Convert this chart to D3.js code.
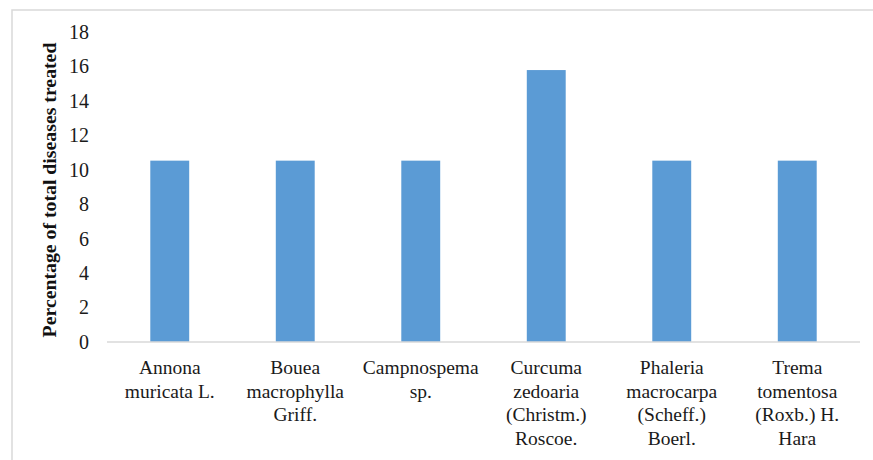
<!DOCTYPE html>
<html><head><meta charset="utf-8">
<script src="https://cdn.jsdelivr.net/npm/d3@7"></script>
<style>body{margin:0;background:#fff;} svg{display:block;} svg text{font-family:"Liberation Serif","Times New Roman",Times,"DejaVu Serif",serif;}</style>
</head><body>
<script>
const categories = [
  ["Annona", "muricata L."],
  ["Bouea", "macrophylla", "Griff."],
  ["Campnospema", "sp."],
  ["Curcuma", "zedoaria", "(Christm.)", "Roscoe."],
  ["Phaleria", "macrocarpa", "(Scheff.)", "Boerl."],
  ["Trema", "tomentosa", "(Roxb.) H.", "Hara"]
];
const values = [10.53, 10.53, 10.53, 15.79, 10.53, 10.53];
const yTicks = [0, 2, 4, 6, 8, 10, 12, 14, 16, 18];
const yTitle = "Percentage of total diseases treated";

(function () {
const W = 873, H = 460;
const svg = d3.select("body").append("svg").attr("width", W).attr("height", H);
svg.append("rect").attr("x", 12).attr("y", 10).attr("width", 900).attr("height", 500)
  .attr("fill", "#fff").attr("stroke", "#d9d9d9").attr("stroke-width", 1.5);

const pL = 107, pR = 860, pT = 32, pB = 342;
const x = d3.scaleBand().domain(d3.range(categories.length)).range([pL, pR]).padding(0);
const y = d3.scaleLinear().domain([0, 18]).range([pB, pT]);
const barW = x.bandwidth() * 0.31;

svg.append("g").selectAll("rect").data(values).join("rect")
  .attr("x", (d, i) => x(i) + x.bandwidth() / 2 - barW / 2)
  .attr("y", d => y(d))
  .attr("width", barW)
  .attr("height", d => y(0) - y(d))
  .attr("fill", "#5b9bd5");

svg.append("line").attr("x1", pL).attr("x2", pR).attr("y1", y(0)).attr("y2", y(0))
  .attr("stroke", "#d9d9d9").attr("stroke-width", 1.5);

const yAxis = svg.append("g").attr("transform", `translate(${pL},0)`)
  .call(d3.axisLeft(y).tickValues(yTicks).tickSize(0).tickPadding(18).tickFormat(d3.format("d")));
yAxis.select(".domain").remove();
yAxis.attr("font-family", null);
yAxis.selectAll("text").attr("font-size", 20).attr("fill", "#1a1a1a");

const lab = svg.append("g").selectAll("text").data(categories).join("text")
  .attr("text-anchor", "middle")
  .attr("font-size", 19.5).attr("fill", "#1a1a1a")
  .attr("transform", (d, i) => `translate(${x(i) + x.bandwidth() / 2},${y(0) + 32})`);
lab.selectAll("tspan").data(d => d).join("tspan")
  .attr("x", 0).attr("dy", (d, j) => j === 0 ? 0 : 23.5).text(d => d);

svg.append("text")
  .attr("transform", `translate(56,${(38 + 342) / 2}) rotate(-90)`)
  .attr("text-anchor", "middle")
  .attr("font-weight", "bold").attr("font-size", 19.8).attr("fill", "#111")
  .text(yTitle);
})();
</script>
</body></html>
